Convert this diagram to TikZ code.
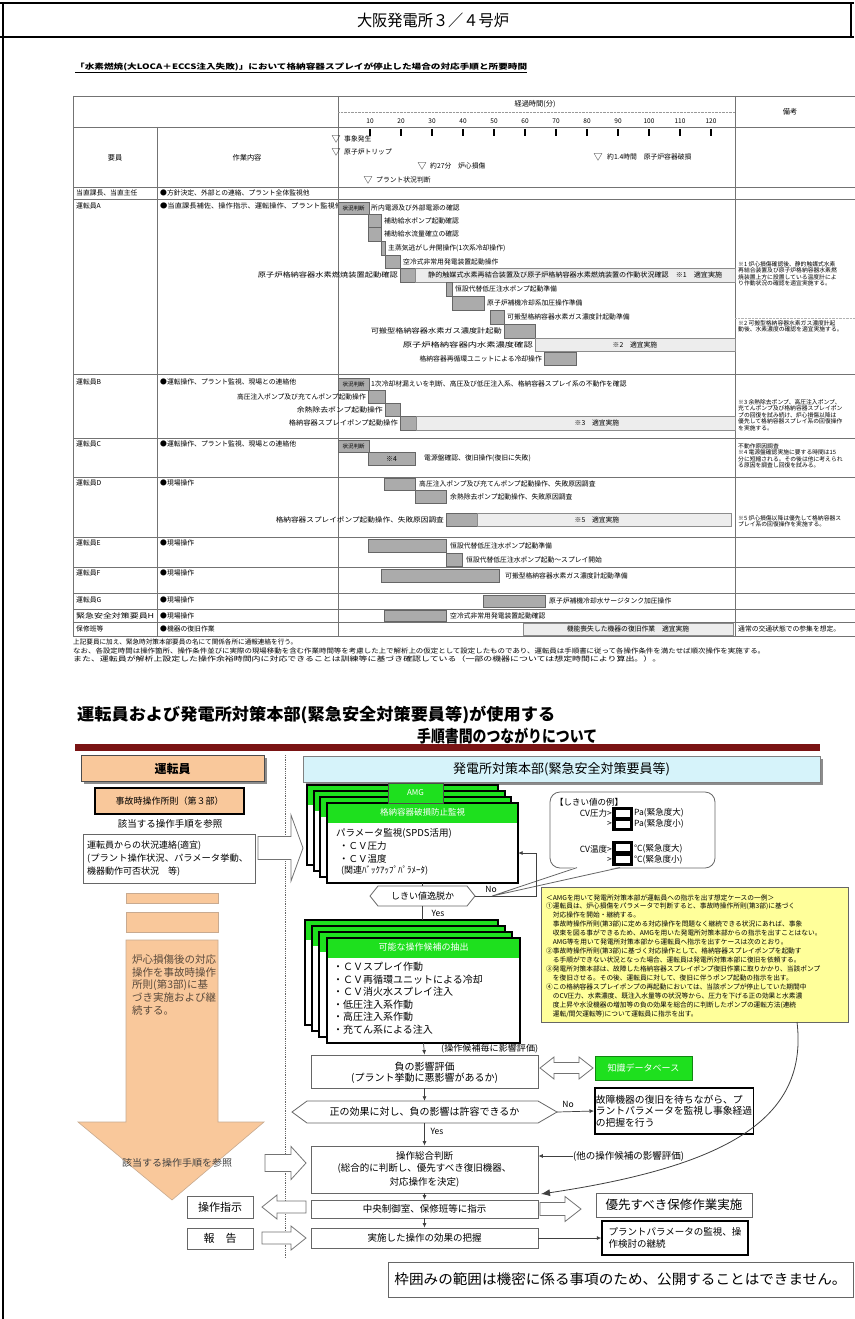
\documentclass[tikz,border=0pt]{standalone}
\usepackage{fontspec}
\usepackage{graphicx}
\setmainfont{Noto Sans CJK JP}
\usetikzlibrary{arrows.meta}
\definecolor{peach}{HTML}{F9C89B}
\definecolor{peachdk}{HTML}{B08660}
\definecolor{cyanl}{HTML}{D6F3FA}
\definecolor{grn}{HTML}{1EE01E}
\definecolor{yel}{HTML}{FFFF9A}
\definecolor{dred}{HTML}{7A1414}
\definecolor{barg}{HTML}{ABABAB}
\definecolor{barl}{HTML}{EDEDED}
\definecolor{stemtxt}{HTML}{5A4A3C}
\newcommand\fsz[1]{\fontsize{#1}{#1}\selectfont}
\newcommand\fw[2]{\resizebox{#1pt}{\height}{#2}}
\newcommand\harR[6]{\draw[hol] ({#1},{#3-#4}) -- ({#2-#6},{#3-#4}) -- ({#2-#6},{#3-#5}) -- ({#2},{#3}) -- ({#2-#6},{#3+#5}) -- ({#2-#6},{#3+#4}) -- ({#1},{#3+#4}) -- cycle;}
\newcommand\harL[6]{\draw[hol] ({#2},{#3-#4}) -- ({#1+#6},{#3-#4}) -- ({#1+#6},{#3-#5}) -- ({#1},{#3}) -- ({#1+#6},{#3+#5}) -- ({#1+#6},{#3+#4}) -- ({#2},{#3+#4}) -- cycle;}
\newcommand\harD[6]{\draw[hol] ({#1},{#3}) -- ({#1+#6},{#3-#5}) -- ({#1+#6},{#3-#4}) -- ({#2-#6},{#3-#4}) -- ({#2-#6},{#3-#5}) -- ({#2},{#3}) -- ({#2-#6},{#3+#5}) -- ({#2-#6},{#3+#4}) -- ({#1+#6},{#3+#4}) -- ({#1+#6},{#3+#5}) -- cycle;}
\newcommand\layer[5]{\draw[line width=1.3pt,fill=white] (#1,#2) rectangle ++(#3,#4); \fill[grn] ({#1+0.7},{#2+0.7}) rectangle ++({#3-1.4},#5);}
\begin{document}
\begin{tikzpicture}[x=1pt,y=-1pt,
  tt/.style={inner sep=0pt,font=\fsz{6.8}},
  nt/.style={inner sep=0pt,font=\fsz{5.8},anchor=west},
  tl/.style={draw=black!55,line width=0.6pt},
  dbar/.style={fill=barg,draw=black!60,line width=0.5pt},
  lbar/.style={fill=barl,draw=black!45,line width=0.5pt},
  hol/.style={draw=black!55,fill=white,line width=0.8pt},
  ln/.style={draw=black!75,line width=0.7pt},
  arrS/.style={ln,-{Latex[length=4.5pt,width=4pt]}},
  fbox/.style={draw=black!60,fill=white,line width=0.8pt,inner sep=1pt,align=center},
  tbox/.style={draw=black,fill=white,line width=1.5pt,inner sep=1pt,align=left},
  ft/.style={inner sep=0pt}
]
\useasboundingbox (0,0) rectangle (854,1319);
\fill[white] (0,0) rectangle (854,1319);
% ===== top frame
\draw[line width=1.6pt] (0,3) -- (854,3);
\draw[line width=1.6pt] (0,37) -- (854,37);
\draw[line width=1.2pt] (3,3) -- (3,1319);
\draw[line width=1.2pt] (851,3) -- (851,37);
\node[ft,font=\fsz{16}] (title) at (433,20) {\fw{152}{大阪発電所３／４号炉}};
% ===== caption
\node[ft,anchor=west,font=\bfseries\fsz{7.5}] (cap) at (75,67) {\fw{452}{「水素燃焼(大LOCA＋ECCS注入失敗)」において格納容器スプレイが停止した場合の対応手順と所要時間}};
\draw[line width=0.6pt] (75,72.5) -- (527,72.5);
% ===== table grid
\draw[tl] (73,96) -- (860,96);
\draw[tl] (73,96) -- (73,636);
\draw[tl] (338,96) -- (338,636);
\draw[tl] (735,96) -- (735,636);
\draw[tl] (157,127) -- (157,636);
\draw[tl] (73,127) -- (860,127);
\foreach \yy in {187,199,374,438,477,537,567,593,609,622,636} \draw[tl] (73,\yy) -- (860,\yy);
\draw[densely dotted,black!40] (338,112) -- (735,112);
\draw[densely dotted,black!30] (735,318) -- (860,318);
\node[tt,font=\fsz{7.2}] (hk) at (535,104) {経過時間(分)};
\node[tt,font=\fsz{7.2}] (hb) at (790,112) {備考};
\node[tt,font=\fsz{7.2}] (hy) at (115,158) {要員};
\node[tt,font=\fsz{7.2}] (hs) at (247,158) {作業内容};
\foreach \t in {10,20,...,120} {
  \node[tt,font=\fsz{6.5}] (num\t) at ({339+3.1*\t},121) {\t};
  \draw[line width=1.2pt] ({339+3.1*\t},129) -- ({339+3.1*\t},136);
}
\node[tt,font=\fsz{9}] (tr1) at (336,139) {▽};
\node[tt,anchor=west] (tx1) at (344,139) {事象発生};
\node[tt,font=\fsz{9}] (tr2) at (336,152) {▽};
\node[tt,anchor=west] (tx2) at (344,152) {原子炉トリップ};
\node[tt,font=\fsz{9}] (tr3) at (422,166) {▽};
\node[tt,anchor=west] (tx3) at (430,166) {約27分　炉心損傷};
\node[tt,font=\fsz{9}] (tr4) at (368,180) {▽};
\node[tt,anchor=west] (tx4) at (376,180) {プラント状況判断};
\node[tt,font=\fsz{9}] (tr5) at (598,157) {▽};
\node[tt,anchor=west] (tx5) at (607,157) {約1.4時間　原子炉容器破損};
% ===== row labels
\node[tt,anchor=west] (r0) at (76,193) {当直課長、当直主任};
\node[tt,anchor=west] (r1) at (76,206) {運転員A};
\node[tt,anchor=west] (r2) at (76,382) {運転員B};
\node[tt,anchor=west] (r3) at (76,444) {運転員C};
\node[tt,anchor=west] (r4) at (76,483) {運転員D};
\node[tt,anchor=west] (r5) at (76,543) {運転員E};
\node[tt,anchor=west] (r6) at (76,573) {運転員F};
\node[tt,anchor=west] (r7) at (76,600) {運転員G};
\node[tt,anchor=west] (r8) at (76,615.5) {\fw{78}{緊急安全対策要員H}};
\node[tt,anchor=west] (r9) at (76,629) {保修班等};
\node[tt,anchor=west] (w0) at (160,193) {●方針決定、外部との連絡、プラント全体監視他};
\node[tt,anchor=west] (w1) at (160,206) {\fw{182}{●当直課長補佐、操作指示、運転操作、プラント監視他}};
\node[tt,anchor=west] (w2) at (160,382) {●運転操作、プラント監視、現場との連絡他};
\node[tt,anchor=west] (w3) at (160,444) {●運転操作、プラント監視、現場との連絡他};
\node[tt,anchor=west] (w4) at (160,483) {●現場操作};
\node[tt,anchor=west] (w5) at (160,543) {●現場操作};
\node[tt,anchor=west] (w6) at (160,573) {●現場操作};
\node[tt,anchor=west] (w7) at (160,600) {●現場操作};
\node[tt,anchor=west] (w8) at (160,615.5) {●現場操作};
\node[tt,anchor=west] (w9) at (160,629) {●機器の復旧作業};
% ===== row A
\draw[dbar] (338,202) rectangle (369,214);
\node[tt,font=\fsz{5.5}] (a0) at (353.5,208) {状況判断};
\node[tt,anchor=west] (a1) at (371,208) {所内電源及び外部電源の確認};
\draw[dbar] (368,214) rectangle (381,227);
\node[tt,anchor=west] (a2) at (384,221) {補助給水ポンプ起動確認};
\draw[dbar] (368,227) rectangle (381,241);
\node[tt,anchor=west] (a3) at (384,234) {補助給水流量確立の確認};
\draw[dbar] (381,241) rectangle (385,255);
\node[tt,anchor=west] (a4) at (388,248) {主蒸気逃がし弁開操作(1次系冷却操作)};
\draw[dbar] (385,255) rectangle (400,268);
\node[tt,anchor=west] (a5) at (403,262) {空冷式非常用発電装置起動操作};
\draw[dbar] (400,268) rectangle (415,282);
\draw[lbar] (415,268) rectangle (735,282);
\node[tt,anchor=east] (a6) at (398,275) {\fw{140}{原子炉格納容器水素燃焼装置起動確認}};
\node[tt,anchor=west] (a6b) at (428,275) {\fw{294}{静的触媒式水素再結合装置及び原子炉格納容器水素燃焼装置の作動状況確認　※1　適宜実施}};
\draw[dbar] (446,282) rectangle (452,296);
\node[tt,anchor=west] (a7) at (455,289) {恒設代替低圧注水ポンプ起動準備};
\draw[dbar] (452,296) rectangle (484,310);
\node[tt,anchor=west] (a8) at (487,303) {原子炉補機冷却系加圧操作準備};
\draw[dbar] (490,310) rectangle (504,324);
\node[tt,anchor=west] (a9) at (507,317) {可搬型格納容器水素ガス濃度計起動準備};
\draw[dbar] (504,324) rectangle (535,338);
\node[tt,anchor=east] (a10) at (502,331) {\fw{131}{可搬型格納容器水素ガス濃度計起動}};
\draw[lbar] (535,338) rectangle (735,351);
\node[tt,anchor=east] (a11) at (533,344.5) {\fw{130}{原子炉格納容器内水素濃度確認}};
\node[tt] (a11b) at (635,344.5) {※2　適宜実施};
\draw[dbar] (544,352) rectangle (576,365);
\node[tt,anchor=east] (a12) at (542,358.5) {格納容器再循環ユニットによる冷却操作};
% ===== row B
\draw[dbar] (338,378) rectangle (369,390);
\node[tt,font=\fsz{5.5}] (b0) at (353.5,384) {状況判断};
\node[tt,anchor=west] (b1) at (371,384) {1次冷却材漏えいを判断、高圧及び低圧注入系、格納容器スプレイ系の不動作を確認};
\draw[dbar] (368,390) rectangle (385,403);
\node[tt,anchor=east] (b2) at (366,396.5) {高圧注入ポンプ及び充てんポンプ起動操作};
\draw[dbar] (385,403) rectangle (400,416);
\node[tt,anchor=east] (b3) at (383,409.5) {\fw{86}{余熱除去ポンプ起動操作}};
\draw[dbar] (400,416) rectangle (416,430);
\draw[lbar] (416,416) rectangle (735,430);
\node[tt,anchor=east] (b4) at (398,423) {\fw{109}{格納容器スプレイポンプ起動操作}};
\node[tt] (b4b) at (597,423) {※3　適宜実施};
% ===== row C
\draw[dbar] (338,440) rectangle (369,452);
\node[tt,font=\fsz{5.5}] (c0) at (353.5,446) {状況判断};
\draw[dbar] (368,452) rectangle (415,465);
\node[tt] (c1) at (391.5,458.5) {※4};
\node[tt,anchor=west] (c2) at (424,458.5) {電源盤確認、復旧操作(復旧に失敗)};
% ===== row D
\draw[dbar] (384,478) rectangle (415,490);
\node[tt,anchor=west] (d1) at (419,484) {高圧注入ポンプ及び充てんポンプ起動操作、失敗原因調査};
\draw[dbar] (415,490) rectangle (446,503);
\node[tt,anchor=west] (d2) at (450,496.5) {余熱除去ポンプ起動操作、失敗原因調査};
\draw[dbar] (446,513) rectangle (477,526);
\draw[lbar] (477,513) rectangle (731,526);
\node[tt,anchor=east] (d3) at (444,519.5) {\fw{168}{格納容器スプレイポンプ起動操作、失敗原因調査}};
\node[tt] (d3b) at (597,519.5) {※5　適宜実施};
% ===== row E
\draw[dbar] (368,539) rectangle (446,552);
\node[tt,anchor=west] (e1) at (450,545.5) {恒設代替低圧注水ポンプ起動準備};
\draw[dbar] (446,553) rectangle (462,566);
\node[tt,anchor=west] (e2) at (466,559.5) {恒設代替低圧注水ポンプ起動～スプレイ開始};
% ===== row F
\draw[dbar] (381,569) rectangle (499,582);
\node[tt,anchor=west] (f1) at (505,575.5) {可搬型格納容器水素ガス濃度計起動準備};
% ===== row G
\draw[dbar] (483,595) rectangle (545,607);
\node[tt,anchor=west] (g1) at (549,601) {原子炉補機冷却水サージタンク加圧操作};
% ===== row H
\draw[dbar] (384,610.5) rectangle (446,621);
\node[tt,anchor=west] (h1) at (450,615.8) {空冷式非常用発電装置起動確認};
% ===== row 保修班等
\draw[lbar] (523,623.5) rectangle (733,635);
\node[tt] (m1) at (628,629.3) {機能喪失した機器の復旧作業　適宜実施};
\node[tt,anchor=west] (m2) at (738,629.3) {通常の交通状態での参集を想定。};
% ===== 備考 notes
\node[nt] (k11) at (738,264) {※1 炉心損傷確認後、静的触媒式水素};
\node[nt] (k12) at (738,270.5) {再結合装置及び原子炉格納容器水素燃};
\node[nt] (k13) at (738,277) {焼装置上方に設置している温度計によ};
\node[nt] (k14) at (738,283.5) {り作動状況の確認を適宜実施する。};
\node[nt] (k21) at (738,323) {※2 可搬型格納容器水素ガス濃度計起};
\node[nt] (k22) at (738,329.5) {動後、水素濃度の確認を適宜実施する。};
\node[nt] (k31) at (738,402) {※3 余熱除去ポンプ、高圧注入ポンプ、};
\node[nt] (k32) at (738,408.5) {充てんポンプ及び格納容器スプレイポン};
\node[nt] (k33) at (738,415) {プの回復を試み続け、炉心損傷以降は};
\node[nt] (k34) at (738,421.5) {優先して格納容器スプレイ系の回復操作};
\node[nt] (k35) at (738,428) {を実施する。};
\node[nt] (k41) at (738,446) {不動作原因調査};
\node[nt] (k42) at (738,452.5) {※4 電源盤確認実施に要する時間は15};
\node[nt] (k43) at (738,459) {分に短縮される。その後は他に考えられ};
\node[nt] (k44) at (738,465.5) {る原因を調査し回復を試みる。};
\node[nt] (k51) at (738,518) {※5 炉心損傷以降は優先して格納容器ス};
\node[nt] (k52) at (738,524.5) {プレイ系の回復操作を実施する。};
% ===== notes below
\node[tt,anchor=west,font=\fsz{6.6}] (n1) at (73,642) {上記要員に加え、緊急時対策本部要員の名にて関係各所に通報連絡を行う。};
\node[tt,anchor=west,font=\fsz{6.6}] (n2) at (73,650.5) {\fw{692}{なお、各設定時間は操作箇所、操作条件並びに実際の現場移動を含む作業時間等を考慮した上で解析上の仮定として設定したものであり、運転員は手順書に従って各操作条件を満たせば順次操作を実施する。}};
\node[tt,anchor=west,font=\fsz{6.6}] (n3) at (73,659) {\fw{588}{また、運転員が解析上設定した操作余裕時間内に対応できることは訓練等に基づき確認している（一部の機器については想定時間により算出。）。}};

% ================= FLOWCHART =================
\node[ft,anchor=west,font=\bfseries\fsz{16.5}] (ft1) at (77,715) {\fw{478}{運転員および発電所対策本部(緊急安全対策要員等)が使用する}};
\node[ft,anchor=west,font=\bfseries\fsz{16.5}] (ft2) at (417,736) {\fw{180}{手順書間のつながりについて}};
\fill[dred] (75,744) rectangle (820,751);
% header boxes
\fill[black!45] (84,758) rectangle (267,784);
\node[draw=black!70,fill=peach,line width=0.8pt,minimum width=183,minimum height=26,inner sep=0,font=\bfseries\fsz{12}] (op) at (172.5,768.5) {運転員};
\fill[black!45] (306,759) rectangle (823,785);
\node[draw=black!50,fill=cyanl,line width=0.6pt,minimum width=517,minimum height=26,inner sep=0,font=\fsz{13}] (hq) at (561.5,769) {発電所対策本部(緊急安全対策要員等)};
\draw[densely dotted,black!60,line width=0.8pt] (285,755) -- (285,1258);
% left column upper
\node[draw=black,fill=peach,line width=1.8pt,minimum width=149,minimum height=26,inner sep=0,font=\fsz{9}] (eop) at (169.5,801) {事故時操作所則（第３部）};
\node[ft,font=\fsz{9.5}] (ref1) at (170,824) {該当する操作手順を参照};
\node[draw=black!60,fill=white,line width=0.8pt,minimum width=172,minimum height=49,inner sep=0] (stat) at (169,858.5) {};
\node[ft,anchor=west,font=\fsz{9}] (st1) at (87,846) {運転員からの状況連絡(適宜)};
\node[ft,anchor=west,font=\fsz{9}] (st2) at (87,859) {\fw{161}{(プラント操作状況、パラメータ挙動、}};
\node[ft,anchor=west,font=\fsz{9}] (st3) at (87,872) {機器動作可否状況　等)};
\harR{258}{303}{848}{11.5}{33}{12}
% peach column
\draw[draw=peachdk!70,fill=peach,line width=0.6pt] (126,893) rectangle (218,903);
\draw[draw=peachdk!70,fill=peach,line width=0.6pt] (126,912) rectangle (218,932);
\draw[draw=peachdk!70,fill=peach,line width=0.6pt] (126,940) -- (218,940) -- (218,1122) -- (264,1122) -- (172,1200) -- (78,1122) -- (126,1122) -- cycle;
\node[ft,anchor=west,font=\fsz{10.5},text=stemtxt] (pl1) at (132,960) {炉心損傷後の対応};
\node[ft,anchor=west,font=\fsz{10.5},text=stemtxt] (pl2) at (132,972.5) {操作を事故時操作};
\node[ft,anchor=west,font=\fsz{10.5},text=stemtxt] (pl3) at (132,985) {所則(第3部)に基};
\node[ft,anchor=west,font=\fsz{10.5},text=stemtxt] (pl4) at (132,997.5) {づき実施および継};
\node[ft,anchor=west,font=\fsz{10.5},text=stemtxt] (pl5) at (132,1010) {続する。};
\node[ft,font=\fsz{9.5},text=black!75] (ref2) at (177,1163) {\fw{110}{該当する操作手順を参照}};
\harR{265}{306}{1163}{8.5}{16.5}{15}
\node[fbox,minimum width=66,minimum height=22,font=\fsz{11}] (inst) at (220,1207) {操作指示};
\node[fbox,minimum width=66,minimum height=21,font=\fsz{11}] (rep) at (220,1238.5) {報　告};
\harL{262}{306}{1207}{6}{12}{15}
\harR{262}{306}{1238}{6}{12}{15}
% ===== AMG stack
\layer{307}{785}{191}{80}{19}
\layer{314}{791}{191}{80}{19}
\layer{320}{797}{191}{80}{19}
\layer{327}{803}{191}{80}{19}
\node[minimum width=191,minimum height=80,inner sep=0] (amgbox) at (422.5,843) {};
\node[draw=black!70,fill=grn,line width=0.8pt,minimum width=55,minimum height=20,inner sep=0,text=white,font=\fsz{8}] (amg) at (415.5,793) {AMG};
\node[ft,text=white,font=\fsz{8.5}] (amgh) at (422.5,812.5) {格納容器破損防止監視};
\node[ft,anchor=west,font=\fsz{9.5}] (am1) at (336,833) {パラメータ監視(SPDS活用)};
\node[ft,anchor=west,font=\fsz{9.5}] (am2) at (339,846) {・ＣＶ圧力};
\node[ft,anchor=west,font=\fsz{9.5}] (am3) at (339,858.5) {・ＣＶ温度};
\node[ft,anchor=west,font=\fsz{9}] (am4) at (341,871) {(関連ﾊﾞｯｸｱｯﾌﾟﾊﾟﾗﾒｰﾀ)};
% threshold balloon
\node[draw=black!60,fill=white,rounded corners=10pt,line width=0.8pt,minimum width=165,minimum height=76,inner sep=0] (bal) at (632.5,830) {};
\fill[white] (577,866.5) -- (492,896) -- (620,866.5) -- cycle;
\draw[black!60,line width=0.8pt] (577,867.6) -- (492,896) -- (620,867.6);
\node[ft,anchor=west,font=\fsz{8.5}] (bt0) at (555,802) {【しきい値の例】};
\node[ft,anchor=east,font=\fsz{8.5}] (bt1) at (612,813) {CV圧力>};
\node[ft,anchor=west,font=\fsz{8.5}] (bt2) at (634,813) {Pa(緊急度大)};
\node[ft,anchor=east,font=\fsz{8.5}] (bt3) at (612,824) {>};
\node[ft,anchor=west,font=\fsz{8.5}] (bt4) at (634,824) {Pa(緊急度小)};
\node[ft,anchor=east,font=\fsz{8.5}] (bt5) at (612,849) {CV温度>};
\node[ft,anchor=west,font=\fsz{8.5}] (bt6) at (634,849) {℃(緊急度大)};
\node[ft,anchor=east,font=\fsz{8.5}] (bt7) at (612,860) {>};
\node[ft,anchor=west,font=\fsz{8.5}] (bt8) at (634,860) {℃(緊急度小)};
\fill[black] (612,807) rectangle (633,831);
\fill[white] (615.5,810) rectangle (629.5,817);
\fill[white] (615.5,821) rectangle (629.5,828);
\fill[black] (612,841) rectangle (633,866);
\fill[white] (615.5,844) rectangle (629.5,851);
\fill[white] (615.5,855.5) rectangle (629.5,862.5);
% decision 1
\draw[draw=black!60,fill=white,line width=0.8pt] (370,896) -- (378,886) -- (467,886) -- (475,896) -- (467,906) -- (378,906) -- cycle;
\node[minimum width=105,minimum height=20,inner sep=0,font=\fsz{9}] (hex1) at (422.5,896) {しきい値逸脱か};
\node[ft,font=\fsz{8.5}] (no1) at (491,889) {No};
\node[ft,font=\fsz{8.5}] (yes1) at (438,913) {Yes};
\coordinate (lp1) at (536,896);
\coordinate (lp2) at (536,853);
\draw[arrS] (hex1.east) -- (lp1) -- (lp2) -- (amgbox.east |- lp2);
\draw[ln] (amgbox.south) -- (hex1.north);
% yellow box
\node[draw=black!60,fill=yel,line width=0.9pt,minimum width=307,minimum height=135,inner sep=0] (ybox) at (694.5,954.5) {};
\foreach \s [count=\i] in {
{＜AMGを用いて発電所対策本部が運転員への指示を出す想定ケースの一例＞},
{①運転員は、炉心損傷をパラメータで判断すると、事故時操作所則(第3部)に基づく},
{　対応操作を開始・継続する。},
{　事故時操作所則(第3部)に定める対応操作を問題なく継続できる状況にあれば、事象},
{　収束を図る事ができるため、AMGを用いた発電所対策本部からの指示を出すことはない。},
{　AMG等を用いて発電所対策本部から運転員へ指示を出すケースは次のとおり。},
{②事故時操作所則(第3部)に基づく対応操作として、格納容器スプレイポンプを起動す},
{　る手順ができない状況となった場合、運転員は発電所対策本部に復旧を依頼する。},
{③発電所対策本部は、故障した格納容器スプレイポンプ復旧作業に取りかかり、当該ポンプ},
{　を復旧させる。その後、運転員に対して、復旧に伴うポンプ起動の指示を出す。},
{④この格納容器スプレイポンプの再起動においては、当該ポンプが停止していた期間中},
{　のCV圧力、水素濃度、既注入水量等の状況等から、圧力を下げる正の効果と水素濃},
{　度上昇や水没機器の増加等の負の効果を総合的に判断したポンプの運転方法(連続},
{　運転/間欠運転等)について運転員に指示を出す。}}
  \node[ft,anchor=west,font=\fsz{6.7}] (yl\i) at (546,{897.5+8.95*(\i-1)}) {\s};
% ===== candidate stack
\layer{305}{920}{193}{105}{19}
\layer{312}{926}{193}{105}{19}
\layer{319}{932}{193}{105}{19}
\layer{327}{938}{193}{105}{19}
\node[minimum width=193,minimum height=105,inner sep=0] (s2b) at (401.5,972.5) {};
\node[minimum width=193,minimum height=105,inner sep=0] (cand) at (423.5,990.5) {};
\draw[ln] (hex1.south) -- (hex1.south |- s2b.north);
\node[ft,text=white,font=\fsz{9}] (candh) at (423.5,947.5) {可能な操作候補の抽出};
\node[ft,anchor=west,font=\fsz{10}] (c1l) at (333,967) {・ＣＶスプレイ作動};
\node[ft,anchor=west,font=\fsz{10}] (c2l) at (333,979.5) {・ＣＶ再循環ユニットによる冷却};
\node[ft,anchor=west,font=\fsz{10}] (c3l) at (333,992) {・ＣＶ消火水スプレイ注入};
\node[ft,anchor=west,font=\fsz{10}] (c4l) at (333,1004.5) {・低圧注入系作動};
\node[ft,anchor=west,font=\fsz{10}] (c5l) at (333,1017) {・高圧注入系作動};
\node[ft,anchor=west,font=\fsz{10}] (c6l) at (333,1029.5) {・充てん系による注入};
% ===== lower center column
\node[fbox,minimum width=227,minimum height=33,font=\fsz{10},text depth=0pt] (neg) at (424.5,1071.5) {負の影響評価\\[1pt](プラント挙動に悪影響があるか)};
\draw[arrS] (cand.south) -- (neg.north);
\node[ft,anchor=west,font=\fsz{8.5}] (cnote) at (441,1049) {\fw{97}{(操作候補毎に影響評価)}};
\draw[draw=black!60,fill=white,line width=0.8pt] (292,1112) -- (307,1101) -- (538,1101) -- (557,1112) -- (538,1123) -- (307,1123) -- cycle;
\node[minimum width=265,minimum height=22,inner sep=0,font=\fsz{10}] (hex2) at (424.5,1112) {正の効果に対し、負の影響は許容できるか};
\draw[arrS] (neg.south) -- (hex2.north);
\node[ft,font=\fsz{8.5}] (no2) at (568,1104) {No};
\node[ft,font=\fsz{8.5}] (yes2) at (437,1131) {Yes};
\node[tbox,minimum width=158,minimum height=46,font=\fsz{9.8}] (fail) at (674,1111) {故障機器の復旧を待ちながら、プ\\[1.5pt]ラントパラメータを監視し事象経過\\[1.5pt]の把握を行う};
\draw[arrS] (hex2.east) -- (fail.west);
\node[fbox,minimum width=227,minimum height=47,font=\fsz{9.5}] (judge) at (424.5,1169.5) {操作総合判断\\[3pt](総合的に判断し、優先すべき復旧機器、\\[3pt]対応操作を決定)};
\draw[arrS] (hex2.south) -- (judge.north);
\node[ft,anchor=west,font=\fsz{9.5}] (other) at (573,1156) {(他の操作候補の影響評価)};
\draw[arrS] (other.west) -- (judge.east |- other.west);
\node[draw=grn!60!black,fill=grn,line width=0.6pt,minimum width=97,minimum height=24,inner sep=0,text=white,font=\fsz{9}] (kdb) at (643.5,1068) {知識データベース};
\harD{540}{593}{1068}{5.5}{11}{14}
\coordinate (cs) at (797,1022);
\coordinate (ce) at (541,1194);
\draw[line width=0.8pt,black!75,-{Latex[length=9pt,width=7pt]}] (cs) .. controls (808,1115) and (735,1165) .. (ce);
\node[fbox,minimum width=227,minimum height=18,font=\fsz{9.5}] (cmd) at (424.5,1209) {中央制御室、保修班等に指示};
\draw[arrS] (judge.south) -- (cmd.north);
\node[fbox,minimum width=227,minimum height=20,font=\fsz{9.5}] (eff) at (424.5,1238) {実施した操作の効果の把握};
\draw[arrS] (cmd.south) -- (eff.north);
\harR{540}{581}{1209}{6.5}{12.5}{16}
\node[fbox,minimum width=156,minimum height=24,font=\fsz{12.5}] (prio) at (674,1205) {優先すべき保修作業実施};
\node[tbox,minimum width=146,minimum height=34,font=\fsz{9.5}] (mon) at (675,1238) {プラントパラメータの監視、操\\[2pt]作検討の継続};
\draw[arrS] (eff.east) -- (mon.west);
% bottom note
\node[draw=black!60,fill=white,line width=0.8pt,minimum width=465,minimum height=35,inner sep=0,font=\fsz{14}] (note) at (620.5,1279.5) {\fw{452}{枠囲みの範囲は機密に係る事項のため、公開することはできません。}};
\end{tikzpicture}
\end{document}
